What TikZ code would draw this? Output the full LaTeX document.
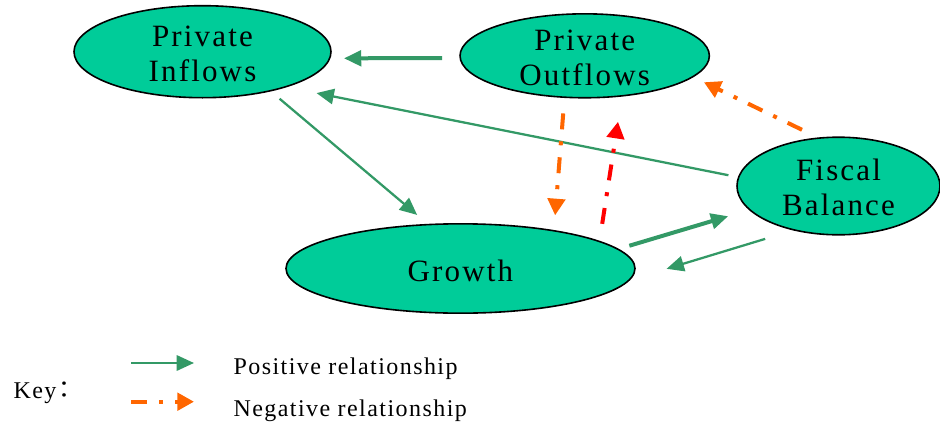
\documentclass[tikz,border=0pt]{standalone}
\usepackage{fontspec}
\setmainfont{Liberation Serif}
\newfontfamily\ovalfont[LetterSpace=7]{Liberation Serif}
\newfontfamily\keyfont[LetterSpace=6]{Liberation Serif}
\newfontfamily\cjkfont{Noto Sans CJK JP}
\usepackage{tikz}
\usetikzlibrary{shapes.geometric, arrows.meta}

\definecolor{ovalfill}{HTML}{00CC99}
\definecolor{posgreen}{HTML}{339966}
\definecolor{negorange}{HTML}{FF6600}
\definecolor{negred}{HTML}{FF0000}

\begin{document}
\begin{tikzpicture}[x=0.75pt, y=-0.75pt,
  oval/.style={ellipse, draw=black, line width=1.2pt, fill=ovalfill, inner sep=0pt, outer sep=0pt,
    align=center, font=\ovalfont\fontsize{23.25pt}{26.25pt}\selectfont, text height=44.5pt, text depth=-0.5pt},
  posarrow/.style={draw=posgreen, line width=1.7pt, -{Triangle[length=13pt,width=11.5pt]}},
  posthick/.style={posarrow, line width=3pt},
  negarrow/.style={draw=negorange, line width=3pt, dash pattern=on 12pt off 9pt on 3pt off 9pt,
    -{Triangle[length=12.5pt,width=13pt]}},
  keytext/.style={anchor=base west, inner sep=0pt, font=\keyfont\fontsize{18pt}{21pt}\selectfont}]

\useasboundingbox (0,0) rectangle (940,425);

% --- Ovals ---
\node[oval, minimum width=192.75pt, minimum height=69pt] (inf) at (202.5,51.7) {Private\\Inflows};
\node[oval, minimum width=187pt, minimum height=62.7pt] (outf) at (584.7,55.8) {Private\\Outflows};
\node[oval, minimum width=152.25pt, minimum height=73.2pt] (fis) at (838.5,186) {Fiscal\\Balance};
\node[oval, minimum width=261.75pt, minimum height=67pt, text height=19.8pt, text depth=0pt] (gro) at (460.5,268.5) {Growth};

% --- Positive relationships (green) ---
\draw[posthick, shorten <=13.65pt, shorten >=10.7pt] (outf.181.8) -- (inf.-3.6);
\draw[posarrow, shorten <=7.8pt, shorten >=23.85pt] (fis.175.8) -- (inf.-23.2);
\draw[posarrow, shorten <=9.2pt, shorten >=11.25pt] (inf.-30.7) -- (gro.126.3);
\draw[posthick, shorten <=9pt, shorten >=16.9pt] (gro.7.4) -- (fis.195);
\draw[posarrow, shorten <=23pt, shorten >=29.6pt] (fis.225.4) -- (gro.-4.2);

% --- Negative relationships (dash-dot) ---
\draw[negarrow, shorten <=12.2pt, shorten >=11.6pt] (outf.244.4) -- (gro.22.65);
\draw[negarrow, draw=negred, shorten <=13.4pt, shorten >=19.7pt] (gro.11.5) -- (outf.-47.7);
\draw[negarrow, shorten <=14.3pt, shorten >=9.4pt] (fis.112.15) -- (outf.-11.9);

% --- Key ---
\coordinate (kp0) at (131,363);
\coordinate (kp1) at (194,363);
\coordinate (kn0) at (131,401.7);
\coordinate (kn1) at (194,401.7);
\draw[posarrow] (kp0) -- (kp1);
\draw[negarrow] (kn0) -- (kn1);
\node[keytext] (key) at (13.3,398.3) {Key\kern-3pt{\cjkfont ：}};
\node[keytext] (kpos) at (233.3,374.3) {Positive relationship};
\node[keytext] (kneg) at (233.3,416) {Negative relationship};

\end{tikzpicture}
\end{document}
